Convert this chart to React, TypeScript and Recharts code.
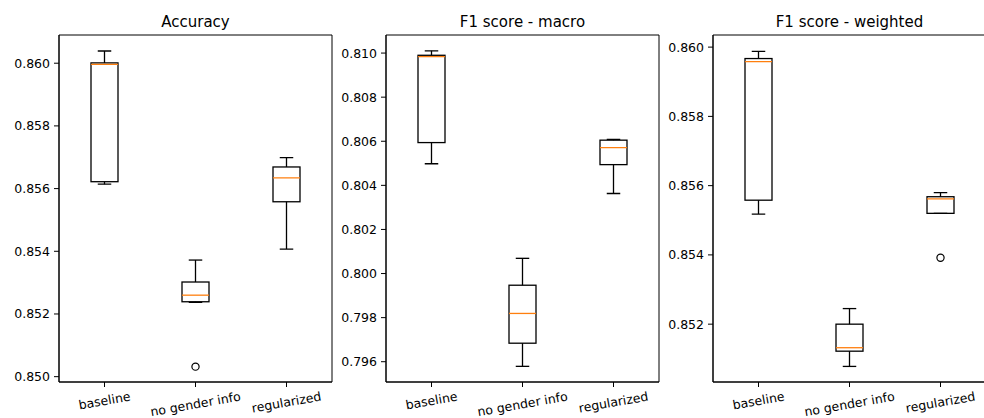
import React from "react";
import { ComposedChart, Bar, Scatter, XAxis, YAxis, ReferenceArea } from "recharts";

const categories = ["baseline", "no gender info", "regularized"];

// Accuracy
const accLow = [0.85614, 0.85237, 0.85407];
const accQ1 = [0.85622, 0.85239, 0.85558];
const accMedian = [0.85996, 0.8526, 0.85634];
const accQ3 = [0.86001, 0.85302, 0.85669];
const accHigh = [0.86039, 0.85372, 0.85699];
const accOutliers = [null, 0.85032, null];
const accTicks = [0.85, 0.852, 0.854, 0.856, 0.858, 0.86];

// F1 score - macro
const macroLow = [0.80498, 0.79579, 0.80363];
const macroQ1 = [0.80594, 0.79684, 0.80494];
const macroMedian = [0.80984, 0.79819, 0.80571];
const macroQ3 = [0.8099, 0.79947, 0.80605];
const macroHigh = [0.8101, 0.80069, 0.80609];
const macroOutliers = [null, null, null];
const macroTicks = [0.796, 0.798, 0.8, 0.802, 0.804, 0.806, 0.808, 0.81];

// F1 score - weighted
const weightedLow = [0.85518, 0.85078, 0.8552];
const weightedQ1 = [0.85558, 0.85122, 0.8552];
const weightedMedian = [0.85958, 0.85132, 0.85562];
const weightedQ3 = [0.85967, 0.852, 0.85568];
const weightedHigh = [0.85988, 0.85245, 0.8558];
const weightedOutliers = [null, null, 0.85392];
const weightedTicks = [0.852, 0.854, 0.856, 0.858, 0.86];

const FONT = "'DejaVu Sans', sans-serif";
const TICK_FS = 12.5;

const buildData = (
  low: number[],
  q1: number[],
  median: number[],
  q3: number[],
  high: number[],
  outliers: (number | null)[]
) =>
  categories.map((name, i) => ({
    name,
    range: [low[i], high[i]],
    low: low[i],
    q1: q1[i],
    median: median[i],
    q3: q3[i],
    high: high[i],
    outlier: outliers[i],
  }));

const panels = [
  {
    title: "Accuracy",
    data: buildData(accLow, accQ1, accMedian, accQ3, accHigh, accOutliers),
    domain: [0.84983, 0.8609],
    ticks: accTicks,
  },
  {
    title: "F1 score - macro",
    data: buildData(macroLow, macroQ1, macroMedian, macroQ3, macroHigh, macroOutliers),
    domain: [0.79508, 0.81082],
    ticks: macroTicks,
  },
  {
    title: "F1 score - weighted",
    data: buildData(weightedLow, weightedQ1, weightedMedian, weightedQ3, weightedHigh, weightedOutliers),
    domain: [0.85033, 0.86035],
    ticks: weightedTicks,
  },
];

// layout
const PLOT_LEFTS = [59, 386, 713];
const PLOT_W = 273;
const AXIS_W = 59;
const PLOT_TOP = 35;
const XAXIS_H = 36;
const HEIGHT = 418;

let measureCtx: CanvasRenderingContext2D | null = null;
const textWidth = (s: string) => {
  if (!measureCtx && typeof document !== "undefined") {
    measureCtx = document.createElement("canvas").getContext("2d");
  }
  if (measureCtx) {
    measureCtx.font = `${TICK_FS}px 'DejaVu Sans'`;
    return measureCtx.measureText(s).width;
  }
  return s.length * 0.55 * TICK_FS;
};

const RotatedTick = (props: any) => {
  const { x, y, payload } = props;
  const label = String(payload.value);
  const rad = (10 * Math.PI) / 180;
  const w = textWidth(label);
  const h = 1.164 * TICK_FS;
  const cy = y + (w * Math.sin(rad) + h * Math.cos(rad)) / 2;
  const d = 0.346 * TICK_FS;
  const bx = x + d * Math.sin(rad);
  const by = cy + d * Math.cos(rad);
  return (
    <text
      x={bx}
      y={by}
      textAnchor="middle"
      fontSize={TICK_FS}
      fontFamily={FONT}
      fill="#000"
      transform={`rotate(-10, ${bx}, ${by})`}
    >
      {label}
    </text>
  );
};

const BoxShape = (props: any) => {
  const { x, y, width, height, payload } = props;
  const top = Math.min(y, y + height);
  const bot = Math.max(y, y + height);
  const { low, high, q1, median, q3 } = payload;
  const py = (v: number) => bot - ((v - low) / (high - low)) * (bot - top);
  const cx = x + width / 2;
  const cap = width / 4;
  const sw = 1.3;
  return (
    <g>
      <line x1={cx} x2={cx} y1={py(high)} y2={py(q3)} stroke="#000" strokeWidth={sw} />
      <line x1={cx} x2={cx} y1={py(q1)} y2={py(low)} stroke="#000" strokeWidth={sw} />
      <line x1={cx - cap} x2={cx + cap} y1={py(high)} y2={py(high)} stroke="#000" strokeWidth={sw} />
      <line x1={cx - cap} x2={cx + cap} y1={py(low)} y2={py(low)} stroke="#000" strokeWidth={sw} />
      <rect x={x} y={py(q3)} width={width} height={py(q1) - py(q3)} fill="none" stroke="#000" strokeWidth={sw} />
      <line x1={x} x2={x + width} y1={py(median)} y2={py(median)} stroke="#ff7f0e" strokeWidth={sw} />
    </g>
  );
};

const OutlierShape = (props: any) => {
  const { cx, cy, payload } = props;
  if (payload == null || payload.outlier == null || !Number.isFinite(cy)) return <g />;
  return <circle cx={cx} cy={cy} r={3.6} fill="none" stroke="#000" strokeWidth={1.2} />;
};

export default function App() {
  return (
    <div
      style={{
        position: "absolute",
        left: 0,
        top: 0,
        width: 984,
        height: HEIGHT,
        overflow: "hidden",
        background: "#fff",
      }}
    >
      {panels.map((p, i) => (
        <div
          key={p.title}
          style={{ position: "absolute", left: PLOT_LEFTS[i] - AXIS_W, top: 0 }}
        >
          <ComposedChart
            width={AXIS_W + PLOT_W + 2}
            height={HEIGHT}
            data={p.data}
            margin={{ top: PLOT_TOP, right: 2, bottom: 0, left: 0 }}
          >
            <XAxis
              dataKey="name"
              type="category"
              height={XAXIS_H}
              interval={0}
              tickSize={5}
              tickMargin={2}
              stroke="#000"
              tick={<RotatedTick />}
            />
            <YAxis
              type="number"
              width={AXIS_W}
              domain={p.domain}
              ticks={p.ticks}
              interval={0}
              allowDataOverflow
              tickSize={5}
              tickMargin={4}
              stroke="#000"
              tick={{ fill: "#000", fontSize: TICK_FS, fontFamily: FONT }}
              tickFormatter={(v: number) => v.toFixed(3)}
            />
            <ReferenceArea
              x1={categories[0]}
              x2={categories[categories.length - 1]}
              y1={p.domain[0]}
              y2={p.domain[1]}
              fill="none"
              stroke="#000"
              strokeWidth={1}
              fillOpacity={0}
            />
            <Bar dataKey="range" barSize={27} shape={BoxShape} isAnimationActive={false} />
            <Scatter dataKey="outlier" shape={OutlierShape} isAnimationActive={false} />
          </ComposedChart>
        </div>
      ))}
      <svg
        width={984}
        height={HEIGHT}
        style={{ position: "absolute", left: 0, top: 0, pointerEvents: "none" }}
      >
        {panels.map((p, i) => (
          <text
            key={p.title}
            x={PLOT_LEFTS[i] + PLOT_W / 2}
            y={27}
            textAnchor="middle"
            fontSize={15}
            fontFamily={FONT}
            fill="#000"
          >
            {p.title}
          </text>
        ))}
      </svg>
    </div>
  );
}
